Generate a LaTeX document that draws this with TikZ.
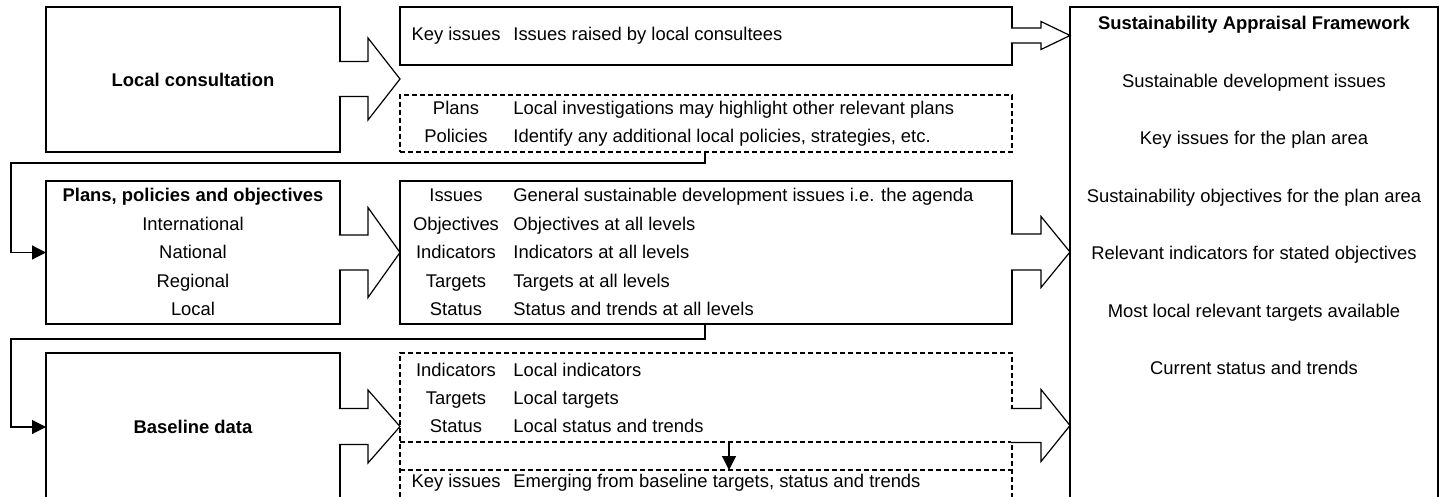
\documentclass[tikz,border=0pt]{standalone}
\usepackage{fontspec}
\setmainfont{Liberation Sans}
\usetikzlibrary{arrows.meta}
\newcommand{\diagfont}{\fontsize{9.2}{11}\selectfont}
% block arrow: source, target, mid y, stem half, head half, head base x
\newcommand{\blockarrow}[6]{%
  \path[blockarr] ([xshift=-0.6pt]#1.east |- 0,{#3-#4}) -- (#6,{#3-#4}) -- (#6,{#3-#5})
    -- (#2.west |- 0,#3) -- (#6,{#3+#5}) -- (#6,{#3+#4}) -- ([xshift=-0.6pt]#1.east |- 0,{#3+#4});}
% one row of a content box: name, y, label, text
\newcommand{\itemrow}[4]{%
  \node[rowlabel] (#1-l) at (456,#2) {#3};
  \node[rowtext] (#1-t) at (513,#2) {#4};}

\begin{document}
\begin{tikzpicture}[x=0.5pt, y=-0.5pt, font=\diagfont,
  box/.style={draw, line width=0.6pt, inner sep=0pt, outer sep=0pt},
  dashbox/.style={box, dash pattern=on 2.5pt off 1.5pt},
  framebox/.style={box, line width=1.1pt},
  plain/.style={inner sep=0pt, text height=6.8pt, text depth=1.9pt},
  title/.style={plain, font=\diagfont\bfseries},
  rowlabel/.style={plain},
  rowtext/.style={plain, anchor=west},
  blockarr/.style={draw, fill=white, line width=0.6pt, line join=miter},
  feedback/.style={draw, line width=0.6pt, -{Triangle[length=7pt,width=7pt]}},
  dashline/.style={draw, line width=0.6pt, dash pattern=on 2.5pt off 1.5pt}]
\useasboundingbox (0,0) rectangle (1445,497);
\clip (0,0) rectangle (1445,497);

% Left column
\node[box, minimum width=147pt, minimum height=72.5pt, font=\diagfont\bfseries] (lc) at (193,79.5) {Local consultation};
\node[box, minimum width=147pt, minimum height=71.5pt] (ppo) at (193,252.5) {};
\node[box, minimum width=147pt, minimum height=74pt, font=\diagfont\bfseries] (bd) at (193,427) {Baseline data};

\node[title] (ppo-title) at (193,197) {Plans, policies and objectives};
\node[plain] (ppo-1) at (193,225.5) {International};
\node[plain] (ppo-2) at (193,254) {National};
\node[plain] (ppo-3) at (193,282.5) {Regional};
\node[plain] (ppo-4) at (193,311) {Local};

% Middle column
\node[box, minimum width=306pt, minimum height=29pt] (ki) at (706,36) {};
\node[dashbox, minimum width=306pt, minimum height=28.5pt] (pp) at (706,123.5) {};
\node[box, minimum width=306pt, minimum height=71.5pt] (gen) at (706,252.5) {};
\node[dashbox, minimum width=306pt, minimum height=78.5pt] (loc) at (706,431.5) {};

\itemrow{ki1}{35.5}{Key issues}{Issues raised by local consultees}
\itemrow{pp1}{110}{Plans}{Local investigations may highlight other relevant plans}
\itemrow{pp2}{138}{Policies}{Identify any additional local policies, strategies, etc.}
\itemrow{gen1}{197}{Issues}{General sustainable development issues i.e. the agenda}
\itemrow{gen2}{225.5}{Objectives}{Objectives at all levels}
\itemrow{gen3}{254}{Indicators}{Indicators at all levels}
\itemrow{gen4}{282.5}{Targets}{Targets at all levels}
\itemrow{gen5}{311}{Status}{Status and trends at all levels}
\itemrow{loc1}{372}{Indicators}{Local indicators}
\itemrow{loc2}{400}{Targets}{Local targets}
\itemrow{loc3}{428}{Status}{Local status and trends}
\itemrow{loc4}{483}{Key issues}{Emerging from baseline targets, status and trends}

% Split inside baseline box
\draw[dashline] (loc.west |- 0,442) -- (loc.east |- 0,442);
\draw[dashline] (loc.west |- 0,470) -- (loc.east |- 0,470);
\coordinate (splitA) at (729,442);
\coordinate (splitB) at (729,470);
\draw[feedback] (splitA) -- (splitB);

% Framework
\node[framebox, minimum width=184pt, minimum height=251.5pt] (saf) at (1254,258.5) {};
\node[title] (saf-title) at (1254,25) {Sustainability Appraisal Framework};
\foreach \txt [count=\i] in {Sustainable development issues, Key issues for the plan area,
    Sustainability objectives for the plan area, Relevant indicators for stated objectives,
    Most local relevant targets available, Current status and trends}
  \node[plain] (saf-\i) at (1254,{25+57.5*\i}) {\txt};

% Block arrows
\blockarrow{lc}{ki}{79}{17.5}{41}{368}
\blockarrow{ki}{saf}{35.5}{7.5}{14}{1041}
\blockarrow{ppo}{gen}{252.5}{17.5}{45}{368}
\blockarrow{gen}{saf}{252}{18}{35.5}{1041}
\blockarrow{bd}{loc}{426.5}{18}{36.5}{368}
\blockarrow{loc}{saf}{425.5}{17}{36}{1041}

% Feedback connectors
\draw[feedback] (pp.south -| 705,0) |- (11,163) |- (ppo.west);
\draw[feedback] (gen.south -| 705,0) |- (11,339) |- (bd.west);
\end{tikzpicture}
\end{document}
